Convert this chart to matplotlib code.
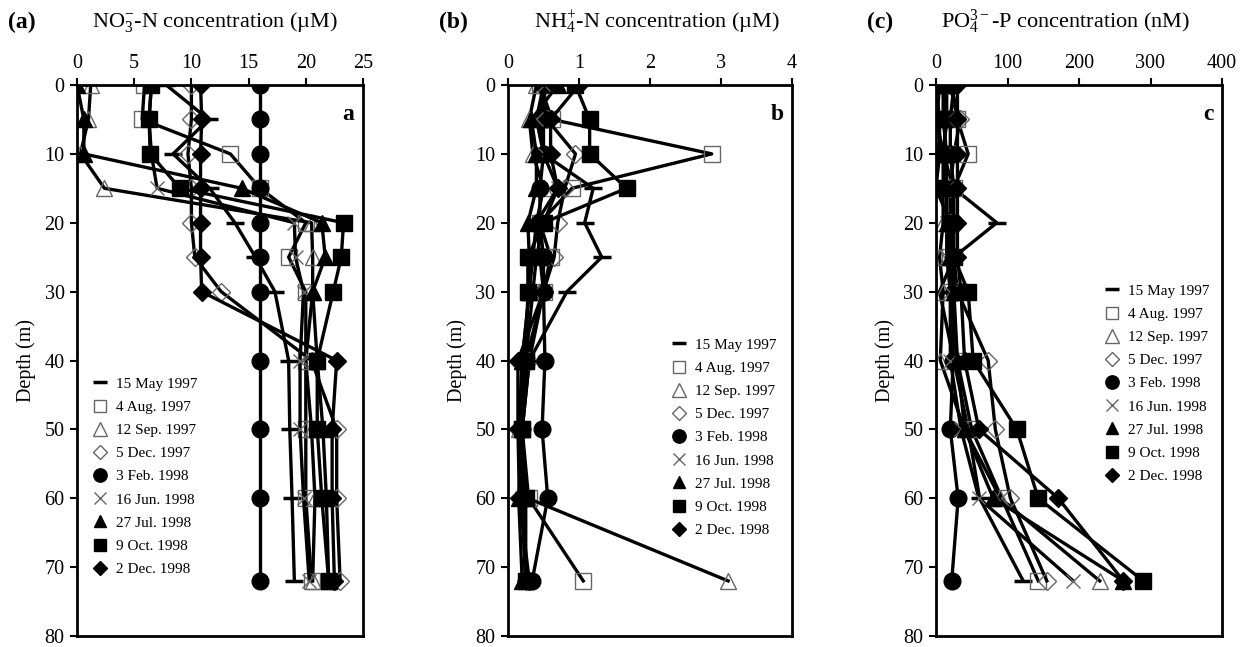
import matplotlib
matplotlib.use('Agg')
import matplotlib.pyplot as plt
from matplotlib.lines import Line2D

plt.rcParams['font.family'] = ['Liberation Serif', 'DejaVu Serif']
plt.rcParams['mathtext.fontset'] = 'custom'
plt.rcParams['mathtext.rm'] = 'Liberation Serif'
plt.rcParams['mathtext.it'] = 'Liberation Serif:italic'

# sampling depths (m)
depth = [0, 5, 10, 15, 20, 25, 30, 40, 50, 60, 72]

dates = ['15 May 1997', '4 Aug. 1997', '12 Sep. 1997', '5 Dec. 1997',
         '3 Feb. 1998', '16 Jun. 1998', '27 Jul. 1998', '9 Oct. 1998',
         '2 Dec. 1998']

# (a) nitrate, uM
no3_may97 = [7.8, 11.5, 8.4, 11.6, 13.8, 15.6, 17.3, 18.5, 18.6, 18.8, 19.0]
no3_aug97 = [5.9, 5.7, 13.4, 16.0, 20.0, 18.5, 20.0, 20.0, 20.0, 20.0, 20.5]
no3_sep97 = [1.2, 1.0, 0.3, 2.4, 20.5, 20.6, 20.6, 20.0, 20.5, 20.8, 20.6]
no3_dec97 = [10.0, 10.0, 9.7, 10.0, 10.0, 10.3, 12.6, 20.5, 22.7, 22.7, 23.0]
no3_feb98 = [16.0, 16.0, 16.0, 16.0, 16.0, 16.0, 16.0, 16.0, 16.0, 16.0, 16.0]
no3_jun98 = [6.5, 6.3, 6.5, 7.0, 19.0, 19.1, 19.8, 19.5, 19.5, 19.8, 20.3]
no3_jul98 = [0.0, 0.6, 0.6, 14.4, 21.4, 21.7, 20.6, 21.0, 21.5, 21.8, 22.0]
no3_oct98 = [6.5, 6.3, 6.4, 9.0, 23.3, 23.1, 22.4, 21.0, 21.0, 21.4, 22.0]
no3_dec98 = [10.8, 10.9, 10.8, 10.8, 10.8, 10.8, 10.9, 22.7, 22.3, 22.3, 22.5]

# (b) ammonium, uM
nh4_may97 = [0.5, 0.45, 0.5, 1.2, 1.08, 1.32, 0.83, 0.3, 0.2, 0.2, 0.25]
nh4_aug97 = [0.45, 0.62, 2.87, 0.9, 0.45, 0.6, 0.5, 0.25, 0.2, 0.29, 1.06]
nh4_sep97 = [0.4, 0.3, 0.35, 0.5, 0.4, 0.35, 0.3, 0.2, 0.15, 0.28, 3.1]
nh4_dec97 = [0.5, 0.55, 0.95, 0.8, 0.7, 0.65, 0.5, 0.3, 0.2, 0.2, 0.25]
nh4_feb98 = [0.5, 0.5, 0.5, 0.45, 0.45, 0.5, 0.5, 0.52, 0.48, 0.56, 0.34]
nh4_jun98 = [0.5, 0.4, 0.5, 0.7, 0.5, 0.4, 0.35, 0.25, 0.2, 0.2, 0.25]
nh4_jul98 = [0.7, 0.33, 0.4, 0.4, 0.28, 0.3, 0.3, 0.2, 0.2, 0.15, 0.2]
nh4_oct98 = [0.95, 1.15, 1.15, 1.67, 0.5, 0.28, 0.28, 0.25, 0.2, 0.25, 0.25]
nh4_dec98 = [1.0, 0.6, 0.6, 0.7, 0.4, 0.45, 0.5, 0.14, 0.14, 0.16, 0.3]

# (c) phosphate, nM
po4_may97 = [15, 15, 10, 25, 85, 25, 5, 25, 45, 61, 122]
po4_aug97 = [20, 30, 45, 25, 20, 20, 20, 30, 50, 92, 143]
po4_sep97 = [5, 1, 10, 10, 10, 5, 10, 6, 40, 90, 229]
po4_dec97 = [20, 34, 25, 20, 20, 25, 30, 73, 83, 104, 155]
po4_feb98 = [25, 20, 20, 25, 25, 25, 25, 24, 20, 31, 22]
po4_jun98 = [10, 15, 10, 15, 15, 15, 20, 20, 35, 60, 192]
po4_jul98 = [10, 10, 15, 15, 15, 20, 25, 30, 40, 80, 262]
po4_oct98 = [0, 5, 5, 0, 20, 25, 45, 52, 113, 143, 290]
po4_dec98 = [30, 30, 30, 30, 30, 30, 35, 40, 60, 171, 262]

no3 = [no3_may97, no3_aug97, no3_sep97, no3_dec97, no3_feb98,
       no3_jun98, no3_jul98, no3_oct98, no3_dec98]
nh4 = [nh4_may97, nh4_aug97, nh4_sep97, nh4_dec97, nh4_feb98,
       nh4_jun98, nh4_jul98, nh4_oct98, nh4_dec98]
po4 = [po4_may97, po4_aug97, po4_sep97, po4_dec97, po4_feb98,
       po4_jun98, po4_jul98, po4_oct98, po4_dec98]

# marker style per cruise
open_c = '0.4'
styles = [
    dict(marker='_', ms=13, mew=2.5, mec='black', mfc='black'),
    dict(marker='s', ms=11, mew=1.0, mec=open_c, mfc='none'),
    dict(marker='^', ms=12, mew=1.0, mec=open_c, mfc='none'),
    dict(marker='D', ms=9, mew=1.0, mec=open_c, mfc='none'),
    dict(marker='o', ms=12, mew=1.0, mec='black', mfc='black'),
    dict(marker='x', ms=10, mew=1.0, mec=open_c, mfc='none'),
    dict(marker='^', ms=11, mew=1.0, mec='black', mfc='black'),
    dict(marker='s', ms=11, mew=1.0, mec='black', mfc='black'),
    dict(marker='D', ms=9, mew=1.0, mec='black', mfc='black'),
]

W, H = 1242, 647
fig = plt.figure(figsize=(W / 100, H / 100), dpi=100)

panels = [
    dict(data=no3, left=77, right=363, xmax=25, step=5, letter='a', tag='(a)',
         title=r'NO$_3^{-}$-N concentration (µM)', tx=215, leg=(92, 377)),
    dict(data=nh4, left=508, right=792, xmax=4, step=1, letter='b', tag='(b)',
         title=r'NH$_4^{+}$-N concentration (µM)', tx=657, leg=(671, 338)),
    dict(data=po4, left=936, right=1222, xmax=400, step=100, letter='c', tag='(c)',
         title=r'PO$_4^{3-}$-P concentration (nM)', tx=1065, leg=(1104, 284)),
]

top, bottom = 85, 636
for p in panels:
    ax = fig.add_axes([p['left'] / W, 1 - bottom / H,
                       (p['right'] - p['left']) / W, (bottom - top) / H])
    for vals, st in zip(p['data'], styles):
        ax.plot(vals, depth, color='black', lw=2.4, **st)
    ax.set_xlim(0, p['xmax'])
    ax.set_ylim(80, 0)
    ax.set_xticks(range(0, p['xmax'] + 1, p['step']))
    ax.set_yticks(range(0, 81, 10))
    ax.xaxis.tick_top()
    ax.tick_params(axis='both', direction='out', length=5, width=1.5,
                   labelsize=14.5, pad=4)
    for s in ax.spines.values():
        s.set_linewidth(2)
    ax.set_ylabel('Depth (m)', fontsize=14.5, labelpad=6)
    ax.text(0.97, 0.965, p['letter'], transform=ax.transAxes, ha='right',
            va='top', fontsize=17, fontweight='bold')

    # legend with marker-only handles
    handles = []
    for st, lab in zip(styles, dates):
        hs = dict(st)
        hs['ms'] = st['ms'] * 0.8
        handles.append(Line2D([], [], linestyle='none', color='black', label=lab, **hs))
    lx, ly = p['leg']
    ax.legend(handles=handles, loc='upper left', frameon=False, fontsize=11,
              handlelength=1.0, handletextpad=0.6, labelspacing=0.62,
              borderpad=0, borderaxespad=0,
              bbox_to_anchor=(lx / W, 1 - ly / H), bbox_transform=fig.transFigure)

    fig.text(8 / W + (p['left'] - 77) / W, 1 - 22 / H, p['tag'], fontsize=17,
             fontweight='bold', va='center', ha='left')
    fig.text(p['tx'] / W, 1 - 22 / H, p['title'], fontsize=16, va='center', ha='center')

fig.savefig('out.png', dpi=100)
